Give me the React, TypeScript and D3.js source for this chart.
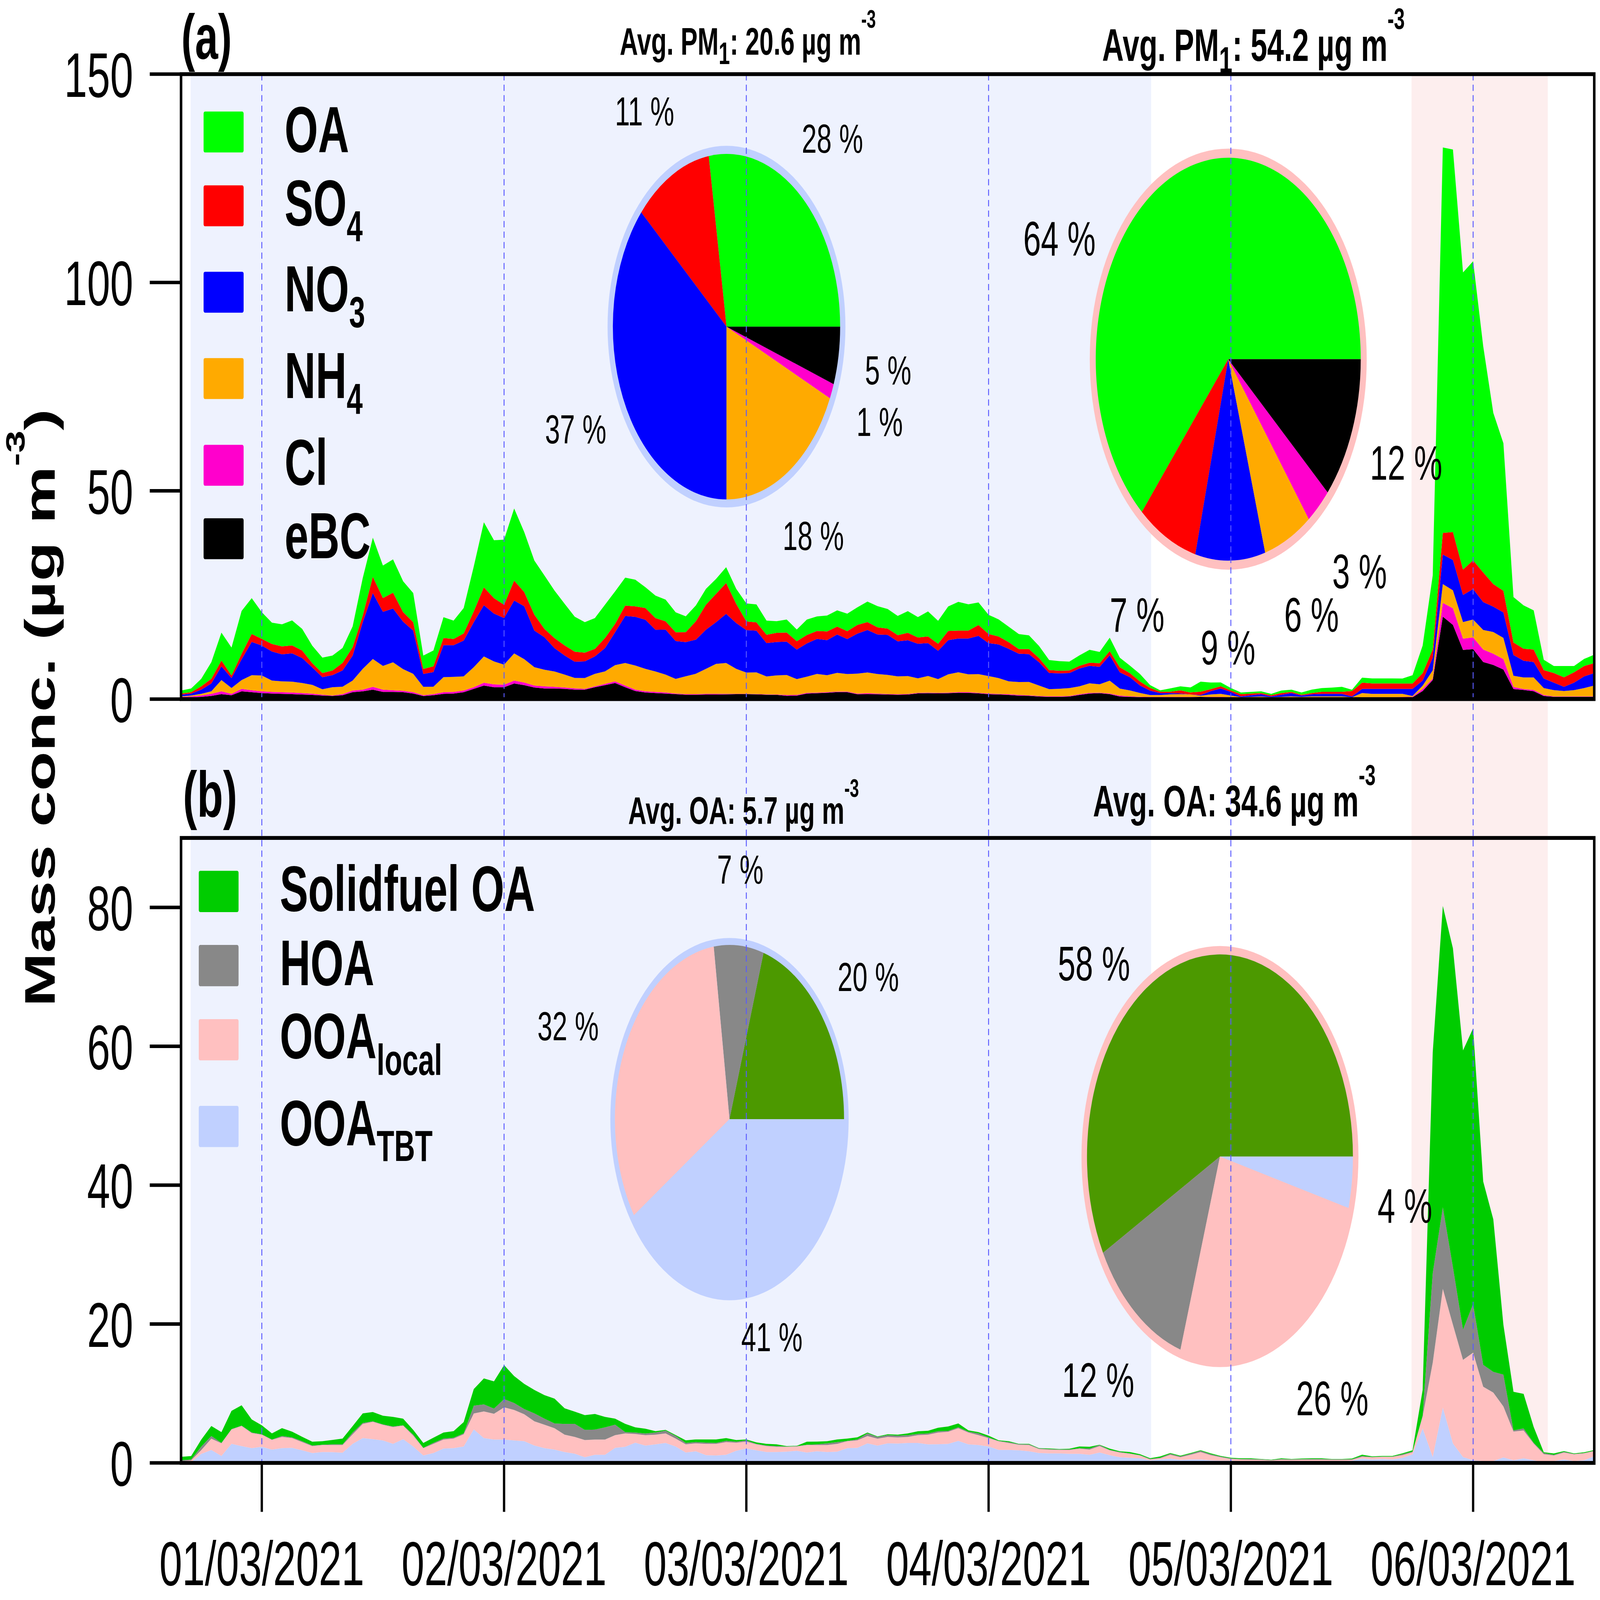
import React from "react";
import * as d3 from "d3";

// ---------------- DATA ----------------
// hours since 01/03/2021 00:00 (hourly, 28/02 16:00 .. 06/03 12:00)
const HOURS = d3.range(-8, 133);
const DAY_TICKS = [0, 24, 48, 72, 96, 120];
const DAY_LABELS = ["01/03/2021", "02/03/2021", "03/03/2021", "04/03/2021", "05/03/2021", "06/03/2021"];
const Y_TICKS_A = [0, 50, 100, 150];
const Y_TICKS_B = [0, 20, 40, 60, 80];
const PERIOD_BLUE = [-7.05, 88.1];
const PERIOD_PINK = [113.9, 127.4];

// Panel (a) species, µg m-3
const OA = [.72,.88,1.8,4.0,6.7,6.7,10.3,8.6,
6.4,5.1,5.3,6.0,5.2,4.2,3.7,3.6,3.6,5.0,
9.0,9.4,7.8,8.0,7.4,7.0,3.2,3.8,5.0,4.4,
6.1,10.8,15.6,13.9,15.6,17.3,14.4,13.0,12.8,11.4,
10.0,8.4,7.3,7.4,8.0,7.8,6.7,6.4,5.0,5.4,
5.2,4.8,3.8,3.8,3.8,3.6,3.8,3.6,4.3,4.3,
3.4,2.8,3.1,2.8,3.7,3.5,3.8,3.9,4.2,4.2,
4.9,5.1,4.7,4.6,5.2,4.9,6.0,5.5,5.9,6.9,
6.3,5.4,4.6,4.1,3.7,3.6,3.3,2.9,2.4,2.3,
2.1,2.5,3.1,2.7,3.2,2.3,1.8,1.8,.7,.32,
.8,.96,1.2,2.4,1.6,.92,.6,.4,.4,.4,
.32,.6,.52,.52,.8,.9,1.0,1.2,.3,1.2,
1.2,1.2,1.2,1.2,2.0,6.6,17.8,92.5,91.8,71.3,
71.8,54.3,41.1,35.4,10.9,10.4,9.4,2.5,1.7,2.7,
1.5,1.7,2.0];
const SO4 = [.28,.32,.8,1.1,1.4,.6,1.3,1.9,
1.6,1.8,1.9,1.9,1.8,1.0,1.0,1.1,1.8,2.0,
1.6,3.9,3.3,3.8,2.3,2.0,1.2,1.4,1.7,1.5,
1.7,2.6,4.3,3.7,3.2,4.8,3.4,3.8,2.0,2.4,
2.4,2.4,2.1,1.8,2.4,2.0,2.5,2.5,2.8,2.8,
2.0,2.1,2.4,4.4,6.0,6.8,7.4,4.6,2.1,2.0,
2.0,2.2,2.2,2.0,2.0,1.9,2.1,1.9,1.9,2.1,
1.9,1.7,1.5,1.5,1.8,1.5,1.6,1.7,2.2,1.9,
1.9,2.6,2.2,1.9,1.6,1.1,1.2,1.0,.7,.64,
.64,.64,.74,.87,1.0,1.2,.96,.96,.64,.32,
.32,.74,.48,.8,.48,.52,.32,.52,.4,.28,
.28,.4,.28,.2,.3,.5,.5,.5,1.3,1.5,
1.3,1.3,1.3,1.3,1.3,1.8,2.0,5.2,6.7,6.1,
6.9,7.1,5.4,5.2,3.0,2.9,3.0,2.0,2.3,2.3,
2.5,2.5,2.4];
const NO3 = [.4,.48,1.0,1.9,3.3,2.4,5.0,8.0,
7.2,7.0,6.5,6.8,6.0,4.2,2.9,2.9,3.9,6.0,
11.2,15.8,13.0,12.9,11.4,10.4,3.1,3.5,7.7,7.6,
8.6,10.8,12.3,11.5,11.2,12.7,12.7,8.8,7.8,5.6,
4.6,3.9,4.0,4.2,5.6,7.9,11.3,11.7,11.8,10.0,
10.8,9.1,8.2,8.2,9.4,10.0,11.8,11.0,10.2,10.0,
8.0,8.0,8.0,7.1,8.0,8.4,8.4,9.2,8.4,9.6,
10.2,9.5,9.6,8.4,8.6,8.3,7.9,6.8,8.2,8.1,
8.6,9.2,7.9,8.1,7.8,6.8,6.7,5.6,3.9,3.7,
3.6,4.3,4.2,4.2,6.1,3.9,3.2,1.8,1.06,.48,
.32,.16,0,.16,.8,1.3,.88,.2,.4,.56,
.2,.52,.8,.32,.5,.6,.6,.6,.2,1.0,
1.2,1.2,1.2,1.2,1.7,1.2,3.0,7.1,7.3,6.5,
7.3,6.7,6.1,6.1,5.0,4.0,3.7,2.3,1.8,1.0,
1.8,2.8,3.0];
const NH4 = [.12,.2,.4,.6,2.7,1.4,2.1,3.6,
3.8,2.7,2.6,2.6,2.4,2.1,1.3,2.0,1.8,2.4,
5.0,6.7,5.7,6.7,5.2,4.4,2.0,1.8,3.6,3.6,
3.4,4.8,6.3,5.5,4.8,6.5,5.6,4.4,4.0,3.7,
3.1,2.5,2.6,3.0,3.0,3.9,5.4,5.8,5.4,4.9,
4.3,3.5,4.3,4.9,6.0,7.2,7.4,6.0,5.1,5.2,
4.3,4.6,4.8,3.8,3.9,4.5,4.1,4.5,4.2,4.8,
5.0,4.7,4.6,4.3,4.3,3.5,4.0,3.3,4.4,4.8,
4.3,4.5,4.2,3.8,3.1,3.1,3.2,2.5,1.7,1.8,
1.9,1.9,2.3,2.0,3.1,1.7,1.4,.9,.48,.48,
.64,.7,.6,.26,.58,.72,.4,.12,.16,.2,
.12,.16,.2,.16,.25,.25,.25,.25,.1,1.0,
.8,.8,.8,.75,.2,.8,2.0,4.5,4.3,4.0,
4.3,4.7,5.2,5.1,2.7,2.8,3.0,1.7,1.5,1.3,
1.5,2.0,2.6];
const CL = [.28,.28,.32,.48,.68,.32,.6,.48,
.4,.4,.4,.4,.36,.32,.2,.08,.24,.4,
.4,.68,.52,.4,.32,.32,.2,.24,.4,.4,
.4,.4,.68,.68,.6,.72,.64,.48,.52,.4,
.32,.32,.2,.2,.32,.4,.4,.32,.28,.28,
.24,.16,.12,.12,.16,.16,.12,.08,.08,.08,
.08,.08,.2,.15,.15,.12,.12,.12,.15,.15,
.2,.15,.12,.12,.12,.12,.12,.12,.12,.12,
.15,.12,.15,.12,.15,.15,.12,.12,.15,.15,
.12,.15,.15,.12,.15,.2,.15,.1,.1,.1,
.1,.1,.05,.03,.06,.08,.08,.08,.08,.08,
.08,.08,.08,.08,.05,.05,.05,.05,.05,.1,
.1,.1,.1,.1,.1,.5,.3,3.3,4.0,2.7,
2.8,3.0,2.7,2.5,.5,.2,.3,.2,.1,.1,
.1,.1,.1];
const EBC = [.26,.38,.54,.78,1.18,.94,1.86,1.66,
1.46,1.34,1.26,1.18,1.1,1.0,.86,.78,.94,1.66,
1.86,2.26,1.74,1.74,1.66,1.34,.74,.94,1.26,1.34,
1.66,2.46,3.26,2.86,2.86,3.74,3.34,2.78,2.54,2.54,
2.46,2.26,2.26,2.86,3.34,3.86,2.86,1.94,1.58,1.46,
1.34,1.18,1.06,1.06,1.1,1.1,1.14,1.18,1.18,1.14,
1.06,1.02,.79,.85,1.34,1.43,1.53,1.69,1.66,1.17,
1.2,1.17,1.1,1.04,1.1,1.37,1.43,1.37,1.43,1.53,
1.5,1.37,1.18,1.11,1.01,.85,.79,.63,.53,.53,
.63,1.01,1.34,1.43,1.18,.63,.53,.47,.4,.4,
.4,.4,.47,.53,.47,.46,.38,.26,.3,.34,
.26,.3,.38,.3,.36,.35,.35,.35,.3,.36,
.36,.36,.36,.4,.45,1.94,4.6,19.8,17.8,11.8,
12.0,8.9,8.2,7.1,2.4,2.2,1.9,.75,.55,.55,
.55,.55,.55];

// Panel (b) OA factors, µg m-3
const SOLIDFUEL = [.5,.5,1.0,1.45,1.55,2.63,2.93,1.88,
1.3,.88,1.13,.83,.63,.55,.5,.63,.83,.93,
1.38,1.33,1.25,1.38,.95,.68,.7,.75,.88,.95,
1.63,2.38,3.75,3.93,4.9,3.88,3.63,3.38,3.38,3.58,
2.25,1.75,2.13,2.25,1.5,.88,1.2,.75,.68,.2,
.1,.13,.38,.38,.45,.5,.4,.25,.13,.2,
.25,.25,.05,.05,.43,.4,.3,.38,.33,.3,
.13,.08,.13,.15,.25,.38,.38,.5,.63,.55,
.18,.18,.25,.08,.13,.05,.08,.05,.08,.05,
.1,.25,.25,.05,.18,.1,.2,.13,.1,.18,
.1,.1,.1,.08,.13,.08,.08,.1,.1,.05,
.05,.1,.05,.08,.1,.1,.05,.05,.1,.18,
.08,.08,.08,.13,.17,3.72,31.8,43.4,45.9,40.2,
39.7,26.4,21.96,7.17,5.56,4.99,2.3,.11,.2,.1,
.08,.1,.1];
const HOA = [.13,.12,.5,.38,.05,.05,.05,.08,
.05,.05,.13,.1,.13,.08,.05,.1,.1,.25,
.13,.08,.05,.08,.05,.15,.05,.13,.13,.13,
.13,1.13,1.0,.75,1.18,1.0,.75,1.13,.88,.68,
1.55,1.88,1.45,1.43,1.75,1.5,.18,.2,.25,.3,
.4,.38,.2,.18,.18,.13,.18,.13,.18,.08,
.08,.1,.05,.05,.05,.1,.25,.25,.05,.13,
.38,.25,.25,.25,.25,.18,.18,.2,.13,.13,
.13,.25,.1,.05,.13,.08,.1,.08,.08,.08,
.08,.05,.15,.15,.05,.08,.05,.05,.08,.08,
.15,.13,.15,.18,.13,.1,.1,.08,.1,.08,
.05,.1,.08,.08,.1,.1,.08,.08,.08,.13,
.05,.05,.05,.13,.11,.1,12.9,11.75,8.3,4.36,
7.0,3.15,2.98,4.59,.17,.29,.1,.17,.1,.1,
.05,.05,.05];
const OOA_LOCAL = [.18,.25,.55,1.63,1.83,2.08,2.9,2.18,
1.75,1.4,1.63,1.4,1.18,1.0,1.0,1.03,1.1,1.38,
2.05,2.5,2.25,2.43,1.95,1.55,1.05,1.33,1.3,1.38,
1.75,2.3,3.85,3.7,4.63,4.38,3.88,3.5,3.38,3.08,
2.5,2.43,2.48,2.2,2.2,1.83,1.93,1.25,1.5,1.4,
1.38,1.13,1.18,1.15,1.63,1.68,1.83,1.18,1.0,.85,
.85,.75,.7,.63,1.08,.9,1.0,1.13,1.0,1.08,
1.05,1.0,.93,.88,.88,1.13,1.4,1.68,1.75,1.83,
1.7,1.43,1.2,1.25,1.0,.8,.9,.58,.55,.5,
.55,.75,.75,.93,.7,.68,.58,.4,.13,.18,
.55,.4,.68,1.08,.75,.5,.25,.25,.23,.22,
.18,.23,.22,.23,.23,.23,.2,.2,.13,.25,
.32,.3,.38,.38,.29,1.72,13.6,17.1,17.1,14.0,
15.5,10.7,9.86,7.34,4.13,4.0,2.4,1.15,.8,1.0,
.97,1.0,.75];
const OOA_TBT = [.07,.12,1.3,1.86,1.0,2.74,2.42,2.12,
2.32,1.92,2.12,2.17,1.82,1.42,1.57,1.55,1.47,2.74,
3.57,3.42,3.24,2.74,3.42,2.37,1.07,1.42,2.07,2.12,
2.37,4.82,3.57,3.37,3.37,3.24,3.12,2.5,2.12,1.92,
1.57,1.32,.82,1.17,1.17,2.17,2.32,2.92,2.49,2.67,
2.87,2.37,1.49,1.67,1.12,1.07,1.17,1.74,2.07,1.82,
1.57,1.57,1.62,1.74,1.49,1.67,1.57,1.62,2.12,2.17,
2.82,2.49,2.82,2.79,2.87,2.87,2.67,2.69,2.74,3.17,
2.67,2.57,2.37,1.87,1.87,1.82,1.67,1.42,1.37,1.37,
1.31,1.31,1.17,1.49,1.12,.82,.74,.67,.37,.49,
.62,.42,.49,.49,.37,.32,.32,.24,.24,.22,
.19,.24,.22,.24,.24,.24,.24,.24,.32,.62,
.49,.57,.49,.74,1.24,4.97,.84,7.96,2.8,.84,
.38,.27,.27,.79,.38,.67,.38,.1,.27,.5,
.27,.38,.96];

// Pie fractions (%), order: counter-clockwise from 3 o'clock
const PIE_A1 = [27.5, 11.0, 36.5, 18.2, 1.4, 5.4];
const PIE_A1_LABELS = ["28 %", "11 %", "37 %", "18 %", "1 %", "5 %"];
const PIE_A2 = [63.7, 7.3, 8.5, 5.9, 3.1, 11.5];
const PIE_A2_LABELS = ["64 %", "7 %", "9 %", "6 %", "3 %", "12 %"];
const PIE_B1 = [20.2, 7.0, 32.1, 40.7];
const PIE_B1_LABELS = ["20 %", "7 %", "32 %", "41 %"];
const PIE_B2 = [57.9, 12.3, 25.7, 4.1];
const PIE_B2_LABELS = ["58 %", "12 %", "26 %", "4 %"];

const AVG_A = ["20.6", "54.2"];
const AVG_B = ["5.7", "34.6"];

// ---------------- STYLE / LAYOUT ----------------
const W = 6955, H = 4575;
const X0 = 787, X1 = 6930;
const A_TOP = 212, A_BOT = 1999;
const B_TOP = 2396, B_BOT = 4183;
const FONT = "'Liberation Sans', Arial, Helvetica, sans-serif";

const COL_A = ["#00ff00", "#ff0000", "#0000ff", "#ffaa00", "#ff00cc", "#000000"]; // OA,SO4,NO3,NH4,Cl,eBC
const COL_B = ["#00cc00", "#888888", "#ffc0c0", "#c0d0ff"]; // SF,HOA,local,TBT
const COL_B_PIE = ["#4c9900", "#888888", "#ffc0c0", "#c0d0ff"];
const SHADE_BLUE = "#eef2fe";
const SHADE_PINK = "#fdeeee";
const RING_BLUE = "#c0d0ff";
const RING_PINK = "#ffc0c0";

const LAB_A1 = [[3485, 437], [2673, 358], [2369, 1268], [3402, 1573], [3723, 1247], [3760, 1099]];
const LAB_A2 = [[4448, 731], [4824, 1806], [5219, 1900], [5582, 1806], [5791, 1682], [5955, 1372]];
const LAB_B1 = [[3641, 2834], [3117, 2527], [2336, 2974], [3222, 3863]];
const LAB_B2 = [[4598, 2803], [4616, 3994], [5634, 4047], [5988, 3496]];

function Pie({ cx, cy, r, ring, ringColor, values, colors }: any) {
  const arcs = d3.pie<number>().sort(null).startAngle(Math.PI / 2).endAngle(Math.PI / 2 - 2 * Math.PI)(values);
  const arc = d3.arc<d3.PieArcDatum<number>>().innerRadius(0).outerRadius(r);
  return (
    <g transform={`translate(${cx},${cy})`}>
      <circle r={r + ring} fill={ringColor} />
      {arcs.map((a, i) => (
        <path key={i} d={arc(a) || ""} fill={colors[i]} />
      ))}
    </g>
  );
}

function Labels({ texts, pos, size }: any) {
  return (
    <g fontSize={size} fontFamily={FONT}>
      {texts.map((t: string, i: number) => (
        <text key={i} x={pos[i][0]} y={pos[i][1]}>{t}</text>
      ))}
    </g>
  );
}

export default function App() {
  const x = d3.scaleLinear().domain([-8, 132]).range([X0, X1]);
  const yA = d3.scaleLinear().domain([0, 150]).range([A_BOT, A_TOP]);
  const yB = d3.scaleLinear().domain([0, 90]).range([B_BOT, B_TOP]);

  const keysA = ["eBC", "Cl", "NH4", "NO3", "SO4", "OA"];
  const colA: any = { OA: COL_A[0], SO4: COL_A[1], NO3: COL_A[2], NH4: COL_A[3], Cl: COL_A[4], eBC: COL_A[5] };
  const rowsA = HOURS.map((h, i) => ({ h, eBC: EBC[i], Cl: CL[i], NH4: NH4[i], NO3: NO3[i], SO4: SO4[i], OA: OA[i] }));
  const stackA = d3.stack<any>().keys(keysA).value((d: any, k: string) => d[k] ?? 0)(rowsA);
  const areaA = d3.area<any>().x((d) => x(d.data.h)).y0((d) => yA(d[0])).y1((d) => yA(d[1]));

  const keysB = ["TBT", "local", "HOA", "SF"];
  const colB: any = { SF: COL_B[0], HOA: COL_B[1], local: COL_B[2], TBT: COL_B[3] };
  const rowsB = HOURS.map((h, i) => ({ h, SF: SOLIDFUEL[i], HOA: HOA[i], local: OOA_LOCAL[i], TBT: OOA_TBT[i] }));
  const stackB = d3.stack<any>().keys(keysB).value((d: any, k: string) => d[k] ?? 0)(rowsB);
  const areaB = d3.area<any>().x((d) => x(d.data.h)).y0((d) => yB(d[0])).y1((d) => yB(d[1]));

  const legA = [
    { t: "OA", s: "", top: 319, base: 435 },
    { t: "SO", s: "4", top: 530, base: 644 },
    { t: "NO", s: "3", top: 777, base: 890 },
    { t: "NH", s: "4", top: 1024, base: 1138 },
    { t: "Cl", s: "", top: 1272, base: 1386 },
    { t: "eBC", s: "", top: 1482, base: 1596 },
  ];
  const legB = [
    { t: "Solidfuel OA", s: "", top: 2490, base: 2605, dy: 0 },
    { t: "HOA", s: "", top: 2702, base: 2817, dy: 0 },
    { t: "OOA", s: "local", top: 2914, base: 3026, dy: 48 },
    { t: "OOA", s: "TBT", top: 3162, base: 3275, dy: 45 },
  ];

  const title = (x0: number, y0: number, fs: number, species: string, sub: string, val: string) => (
    <text x={x0} y={y0} fontSize={fs} fontWeight={700} fontFamily={FONT}>
      {"Avg. " + species}
      {sub ? <tspan fontSize={fs * 0.8} dy={fs * 0.25}>{sub}</tspan> : null}
      <tspan dy={sub ? -fs * 0.25 : 0}>{": " + val + " µg m"}</tspan>
      <tspan fontSize={fs * 0.65} dy={-fs * 0.7}>-3</tspan>
    </text>
  );

  return (
    <>
      <style>{"html,body{margin:0;padding:0;background:#fff;overflow:hidden;}#root{width:100vw;height:100vh;}"}</style>
      <svg
        viewBox={`0 0 ${W} ${H}`}
        preserveAspectRatio="none"
        style={{ display: "block", width: "100vw", height: "100vh", background: "#fff" }}
        fontFamily={FONT}
      >
        {/* period shading */}
        <rect x={x(PERIOD_BLUE[0])} y={A_TOP} width={x(PERIOD_BLUE[1]) - x(PERIOD_BLUE[0])} height={B_BOT - A_TOP} fill={SHADE_BLUE} />
        <rect x={x(PERIOD_PINK[0])} y={A_TOP} width={x(PERIOD_PINK[1]) - x(PERIOD_PINK[0])} height={B_BOT - A_TOP} fill={SHADE_PINK} />

        {/* stacked areas */}
        {stackA.map((s: any) => (
          <path key={s.key} d={areaA(s) || ""} fill={colA[s.key]} />
        ))}
        {stackB.map((s: any) => (
          <path key={s.key} d={areaB(s) || ""} fill={colB[s.key]} />
        ))}

        {/* pies */}
        <Pie cx={3158} cy={934} r={494} ring={23} ringColor={RING_BLUE} values={PIE_A1} colors={COL_A} />
        <Pie cx={5339} cy={1027} r={576} ring={26} ringColor={RING_PINK} values={PIE_A2} colors={COL_A} />
        <Pie cx={3171} cy={3200} r={498} ring={20} ringColor={RING_BLUE} values={PIE_B1} colors={COL_B_PIE} />
        <Pie cx={5303} cy={3307} r={578} ring={24} ringColor={RING_PINK} values={PIE_B2} colors={COL_B_PIE} />

        {/* day dashed lines */}
        {DAY_TICKS.map((h) => (
          <line key={h} x1={x(h)} x2={x(h)} y1={A_TOP} y2={B_BOT} stroke="#5a5aff" strokeWidth={4} strokeDasharray="18 12" />
        ))}

        {/* frames */}
        <rect x={X0} y={A_TOP} width={X1 - X0} height={A_BOT - A_TOP} fill="none" stroke="#000" strokeWidth={11} />
        <rect x={X0} y={B_TOP} width={X1 - X0} height={B_BOT - B_TOP} fill="none" stroke="#000" strokeWidth={11} />

        {/* y ticks a */}
        {Y_TICKS_A.map((v) => (
          <g key={"ya" + v}>
            <line x1={651} x2={X0} y1={yA(v)} y2={yA(v)} stroke="#000" strokeWidth={10} />
            <text x={579} y={yA(v) + 65} fontSize={180} textAnchor="end">{v}</text>
          </g>
        ))}
        {/* y ticks b */}
        {Y_TICKS_B.map((v) => (
          <g key={"yb" + v}>
            <line x1={651} x2={X0} y1={yB(v)} y2={yB(v)} stroke="#000" strokeWidth={10} />
            <text x={579} y={yB(v) + 65} fontSize={180} textAnchor="end">{v}</text>
          </g>
        ))}
        {/* x ticks */}
        {DAY_TICKS.map((h, i) => (
          <g key={"xt" + h}>
            <line x1={x(h)} x2={x(h)} y1={B_BOT} y2={4323} stroke="#000" strokeWidth={10} />
            <text x={x(h)} y={4533} fontSize={178} textAnchor="middle">{DAY_LABELS[i]}</text>
          </g>
        ))}

        {/* y title */}
        <text transform="translate(237,2024) rotate(-90)" textAnchor="middle" fontSize={185} fontWeight={700}>
          {"Mass conc. (µg m"}
          <tspan fontSize={115} dy={-130}>-3</tspan>
          <tspan dy={130}>)</tspan>
        </text>

        {/* panel labels */}
        <text x={788} y={168} fontSize={180} fontWeight={700}>(a)</text>
        <text x={795} y={2335} fontSize={185} fontWeight={700}>(b)</text>

        {/* legends */}
        {legA.map((l, i) => (
          <g key={"la" + i}>
            <rect x={885} y={l.top} width={174} height={117} rx={6} fill={COL_A[i]} />
            <text x={1237} y={l.base} fontSize={187} fontWeight={700}>
              {l.t}
              {l.s ? <tspan fontSize={125} dy={46}>{l.s}</tspan> : null}
            </text>
          </g>
        ))}
        {legB.map((l, i) => (
          <g key={"lb" + i}>
            <rect x={864} y={l.top} width={173} height={118} rx={6} fill={COL_B[i]} />
            <text x={1216} y={l.base} fontSize={185} fontWeight={700}>
              {l.t}
              {l.s ? <tspan fontSize={125} dy={l.dy}>{l.s}</tspan> : null}
            </text>
          </g>
        ))}

        {/* pie titles */}
        {title(2694, 156, 110, "PM", "1", AVG_A[0])}
        {title(4791, 174, 130, "PM", "1", AVG_A[1])}
        {title(2731, 2356, 110, "OA", "", AVG_B[0])}
        {title(4751, 2334, 127, "OA", "", AVG_B[1])}

        {/* pie labels */}
        <Labels texts={PIE_A1_LABELS} pos={LAB_A1} size={117} />
        <Labels texts={PIE_A2_LABELS} pos={LAB_A2} size={138} />
        <Labels texts={PIE_B1_LABELS} pos={LAB_B1} size={117} />
        <Labels texts={PIE_B2_LABELS} pos={LAB_B2} size={138} />
      </svg>
    </>
  );
}
